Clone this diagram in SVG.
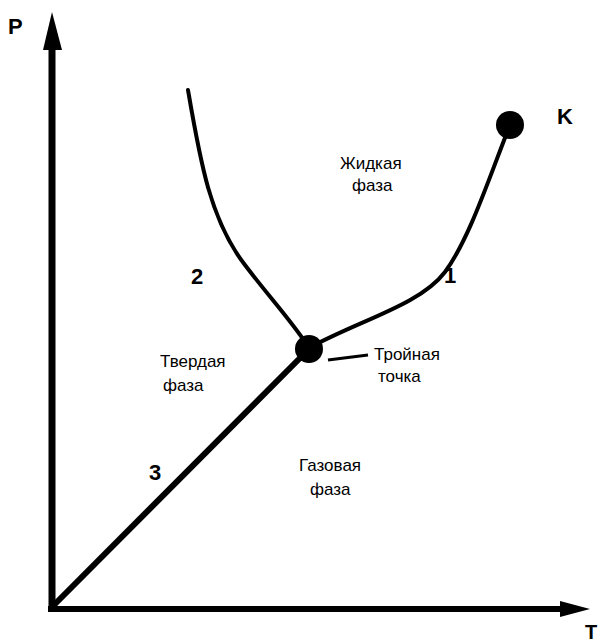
<svg xmlns="http://www.w3.org/2000/svg" width="603" height="644" viewBox="0 0 603 644">
<style>
.lbl{font-family:"Liberation Sans",Arial,sans-serif;font-size:17px;fill:#000}
.num{font-family:"Liberation Sans",Arial,sans-serif;font-size:22px;font-weight:bold;fill:#000}
.crv{fill:none;stroke:#000;stroke-width:4;stroke-linecap:round}
</style>
<rect width="603" height="644" fill="#fff"/>
<g id="axes">
<line x1="52" y1="612" x2="52" y2="45" stroke="#000" stroke-width="7"/>
<polygon points="52,12 43,50 62,50" fill="#000"/>
<line x1="48" y1="609" x2="560" y2="609" stroke="#000" stroke-width="6"/>
<polygon points="590,609 560,601 560,617" fill="#000"/>
<text class="num" x="8" y="34">P</text>
<text class="num" x="585" y="639" style="font-size:20px">T</text>
</g>
<g id="connectors">
<line x1="52" y1="607" x2="309" y2="349" stroke="#000" stroke-width="6" stroke-linecap="round"/>
<path class="crv" d="M309,348 C360,320 420,305 445,272 C470,238 490,175 510,125"/>
<path class="crv" d="M188,90 C200,160 210,220 245,265 C270,298 295,325 309,348"/>
<line x1="328" y1="360" x2="368" y2="355" stroke="#000" stroke-width="3"/>
</g>
<g id="triple">
<circle cx="309" cy="349" r="14" fill="#000"/>
<text class="lbl" x="374" y="360">Тройная</text>
<text class="lbl" x="378" y="382">точка</text>
</g>
<g id="critical">
<circle cx="510" cy="125" r="14" fill="#000"/>
<text class="num" x="557" y="124">K</text>
</g>
<g id="liquid">
<text class="lbl" x="340" y="169">Жидкая</text>
<text class="lbl" x="352" y="191">фаза</text>
</g>
<g id="solid">
<text class="lbl" x="160" y="367">Твердая</text>
<text class="lbl" x="163" y="391">фаза</text>
</g>
<g id="gas">
<text class="lbl" x="299" y="471">Газовая</text>
<text class="lbl" x="310" y="495">фаза</text>
</g>
<g id="labels">
<text class="num" x="444" y="283">1</text>
<text class="num" x="191" y="284">2</text>
<text class="num" x="149" y="480">3</text>
</g>
</svg>
